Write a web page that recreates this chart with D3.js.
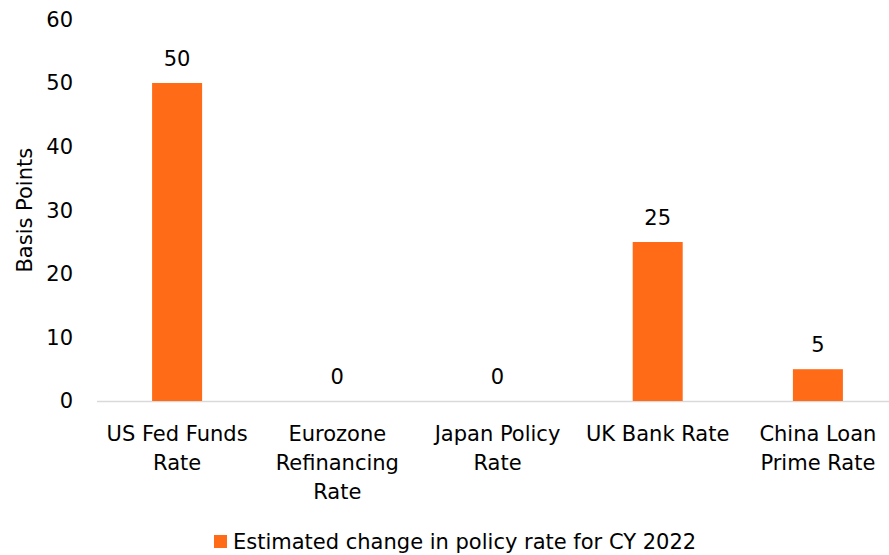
<!DOCTYPE html>
<html><head><meta charset="utf-8">
<script src="https://cdn.jsdelivr.net/npm/d3@7"></script>
<style>body{margin:0;background:#fff}svg{display:block}</style>
</head><body>
<svg id="c" width="889" height="555"></svg>
<script>
const categories = [["US Fed Funds","Rate"],["Eurozone","Refinancing","Rate"],["Japan Policy","Rate"],["UK Bank Rate"],["China Loan","Prime Rate"]];
const values = [50, 0, 0, 25, 5];
const yTicks = [0, 10, 20, 30, 40, 50, 60];
const seriesName = "Estimated change in policy rate for CY 2022";
const yLabel = "Basis Points";

const font = "'DejaVu Sans', sans-serif";
const fs = 21;
const color = "#FF6B17";
const svg = d3.select("#c");
const x = d3.scaleBand().domain(d3.range(categories.length)).range([97, 898]);
const y = d3.scaleLinear().domain([0, 60]).range([401, 19.4]);
const barW = 50;

// axis line
svg.append("line").attr("x1", 97).attr("x2", 889).attr("y1", y(0)+0.5).attr("y2", y(0)+0.5)
  .attr("stroke", "#d9d9d9").attr("stroke-width", 1.5);

// y tick labels
svg.append("g").selectAll("text").data(yTicks).join("text")
  .attr("x", 73).attr("y", d => y(d)).attr("dy", "0.35em")
  .attr("text-anchor", "end").attr("font-family", font).attr("font-size", fs).attr("fill", "#000")
  .text(d => d);

// y label
svg.append("text").attr("transform", `translate(32,${y(30)}) rotate(-90)`)
  .attr("text-anchor", "middle").attr("font-family", font).attr("font-size", fs).text(yLabel);

// bars
const cx = i => x(i) + x.bandwidth()/2;
svg.append("g").selectAll("rect").data(values).join("rect")
  .attr("x", (d,i) => cx(i) - barW/2).attr("width", barW)
  .attr("y", d => y(d)).attr("height", d => y(0) - y(d)).attr("fill", color);

// value labels
svg.append("g").selectAll("text").data(values).join("text")
  .attr("x", (d,i) => cx(i)).attr("y", d => y(d) - 17)
  .attr("text-anchor", "middle").attr("font-family", font).attr("font-size", fs).text(d => d);

// category labels
const cg = svg.append("g");
categories.forEach((lines, i) => {
  const t = cg.append("text").attr("text-anchor", "middle").attr("font-family", font).attr("font-size", fs);
  lines.forEach((l, j) => t.append("tspan").attr("x", cx(i)).attr("y", 441 + j*29).text(l));
});

// legend
svg.append("rect").attr("x", 214).attr("y", 535).attr("width", 13).attr("height", 13).attr("fill", color);
svg.append("text").attr("x", 233).attr("y", 549).attr("font-family", font).attr("font-size", fs).text(seriesName);
</script>
</body></html>
